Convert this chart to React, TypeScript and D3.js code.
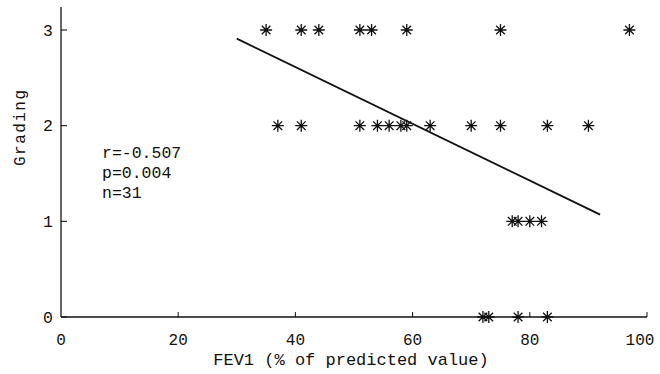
import React, { useRef, useEffect } from 'react';
import * as d3 from 'd3';

// FEV1 (% predicted), grouped by grading
const fevGrade3 = [35, 41, 44, 51, 53, 59, 75, 97];
const fevGrade2 = [37, 41, 51, 54, 56, 58, 59, 63, 70, 75, 83, 90];
const fevGrade1 = [77, 78, 80, 82];
const fevGrade0 = [72, 73, 78, 83];

// regression line end points
const fitX = [30, 92];
const fitY = [2.91, 1.07];

const xTicks = [0, 20, 40, 60, 80, 100];
const yTicks = [0, 1, 2, 3];
const statLines = ['r=-0.507', 'p=0.004', 'n=31'];

const FONT = '"Liberation Mono", "DejaVu Sans Mono", monospace';

const App = () => {
  const svgRef = useRef<SVGSVGElement>(null);

  useEffect(() => {
    const svg = d3.select(svgRef.current);
    svg.selectAll('*').remove();

    const x = d3.scaleLinear().domain([0, 100]).range([61, 647]);
    const y = d3.scaleLinear().domain([0, 3]).range([317, 30]);

    const points = [
      ...fevGrade3.map(v => ({ fev: v, grade: 3 })),
      ...fevGrade2.map(v => ({ fev: v, grade: 2 })),
      ...fevGrade1.map(v => ({ fev: v, grade: 1 })),
      ...fevGrade0.map(v => ({ fev: v, grade: 0 })),
    ];

    const ink = '#111';

    // axes
    svg.append('line')
      .attr('x1', x(0)).attr('x2', x(0))
      .attr('y1', y(0)).attr('y2', 7)
      .attr('stroke', ink).attr('stroke-width', 1.3);
    svg.append('line')
      .attr('x1', x(0)).attr('x2', x(100))
      .attr('y1', y(0)).attr('y2', y(0))
      .attr('stroke', ink).attr('stroke-width', 1.3);

    // y ticks point inward
    svg.selectAll('.ytick')
      .data(yTicks)
      .enter().append('line')
      .attr('x1', x(0)).attr('x2', x(0) + 6)
      .attr('y1', d => y(d)).attr('y2', d => y(d))
      .attr('stroke', ink).attr('stroke-width', 1.1);

    svg.selectAll('.ylab')
      .data(yTicks)
      .enter().append('text')
      .attr('x', 53)
      .attr('y', d => y(d))
      .attr('dy', '0.35em')
      .attr('text-anchor', 'end')
      .style('font-family', FONT)
      .style('font-size', '16.5px')
      .style('fill', ink)
      .text(d => d);

    svg.selectAll('.xtick')
      .data(xTicks.slice(1))
      .enter().append('line')
      .attr('x1', d => x(d)).attr('x2', d => x(d))
      .attr('y1', y(0)).attr('y2', y(0) - 5)
      .attr('stroke', ink).attr('stroke-width', 1);

    // last label sits a little left of its tick, as in the original
    svg.selectAll('.xlab')
      .data(xTicks)
      .enter().append('text')
      .attr('x', d => x(d))
      .attr('dx', (d, i) => (i === xTicks.length - 1 ? -7 : 0))
      .attr('y', 345)
      .attr('text-anchor', 'middle')
      .style('font-family', FONT)
      .style('font-size', '16px')
      .style('fill', ink)
      .text(d => d);

    svg.append('text')
      .attr('x', 351)
      .attr('y', 365)
      .attr('text-anchor', 'middle')
      .style('font-family', FONT)
      .style('font-size', '17px')
      .style('fill', ink)
      .text('FEV1 (% of predicted value)');

    svg.append('text')
      .attr('transform', 'translate(25,128) rotate(-90)')
      .attr('text-anchor', 'middle')
      .attr('textLength', 76)
      .style('font-family', FONT)
      .style('font-size', '16px')
      .style('fill', ink)
      .text('Grading');

    svg.selectAll('.stat')
      .data(statLines)
      .enter().append('text')
      .attr('x', 102)
      .attr('y', (d, i) => 158 + i * 20)
      .style('font-family', FONT)
      .style('font-size', '16.5px')
      .style('fill', ink)
      .text(d => d);

    // regression line
    const line = d3.line<number>()
      .x(d => x(d))
      .y((d, i) => y(fitY[i]));
    svg.append('path')
      .datum(fitX)
      .attr('fill', 'none')
      .attr('stroke', ink)
      .attr('stroke-width', 1.8)
      .attr('d', line);

    // asterisk markers
    const r = 6;
    const star = `M${-r},0L${r},0M0,${-r}L0,${r}M${-r * 0.72},${-r * 0.72}L${r * 0.72},${r * 0.72}M${-r * 0.72},${r * 0.72}L${r * 0.72},${-r * 0.72}`;
    svg.selectAll('.pt')
      .data(points)
      .enter().append('path')
      .attr('transform', d => `translate(${x(d.fev)},${y(d.grade)})`)
      .attr('d', star)
      .attr('fill', 'none')
      .attr('stroke', ink)
      .attr('stroke-width', 1.3);
  }, []);

  return (
    <div style={{ position: 'absolute', left: 0, top: 0 }}>
      <svg ref={svgRef} width={660} height={374} style={{ background: '#fff', display: 'block' }} />
    </div>
  );
};

export default App;
